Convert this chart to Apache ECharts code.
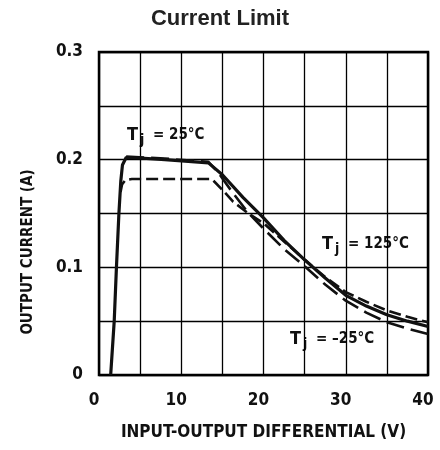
<!DOCTYPE html>
<html>
<head>
<meta charset="utf-8">
<script src="https://cdn.jsdelivr.net/npm/echarts@6/dist/echarts.min.js"></script>
<style>html,body{margin:0;padding:0;background:#fff}#c{width:440px;height:450px}</style>
</head>
<body>
<div id="c"></div>
<script>
// Tj = 25°C (solid)
const v25 = [1.42, 1.85, 2.12, 2.42, 2.65, 2.85, 3.3, 4, 8, 13.3, 15, 17.5, 20, 22.5, 25, 27.5, 30, 32.5, 35, 37.5, 40];
const i25 = [0, 0.05, 0.1, 0.15, 0.18, 0.195, 0.202, 0.202, 0.2, 0.197, 0.186, 0.165, 0.146, 0.125, 0.107, 0.09, 0.074, 0.064, 0.056, 0.05, 0.045];
// Tj = 125°C (short dash)
const v125 = [2.62, 2.8, 3.2, 4, 8, 13.7, 14.1, 15, 16.3, 18, 20, 22.5, 25, 27.5, 30, 32.5, 35, 37.5, 40];
const i125 = [0.17, 0.177, 0.181, 0.182, 0.182, 0.182, 0.179, 0.172, 0.161, 0.151, 0.141, 0.124, 0.107, 0.091, 0.077, 0.068, 0.060, 0.054, 0.049];
// Tj = -25°C (long dash)
const vM25 = [3.3, 8, 13.3, 14.5, 16, 18, 20, 22.5, 25, 27.5, 30, 32.5, 35, 37.5, 40];
const iM25 = [0.203, 0.201, 0.198, 0.188, 0.172, 0.152, 0.136, 0.117, 0.101, 0.084, 0.069, 0.058, 0.049, 0.043, 0.038];

const xTicks = [0, 10, 20, 30, 40];
const yTicks = ['0', '0.1', '0.2', '0.3'];

const FONT = 'DejaVu Sans Condensed';
const pair = (xs, ys) => xs.map((x, k) => [x, ys[k]]);

const chart = echarts.init(document.getElementById('c'), null, {renderer: 'canvas'});

function tjLabel(x, y, rest) {
  return {
    type: 'group', children: [
      {type: 'text', x: x, y: y, style: {text: 'T', font: 'bold 18px ' + FONT, fill: '#111', verticalAlign: 'middle', align: 'left'}},
      {type: 'text', x: x + 13, y: y + 5, style: {text: 'j', font: 'bold 14px ' + FONT, fill: '#111', verticalAlign: 'middle', align: 'left'}},
      {type: 'text', x: x + 26, y: y, style: {text: rest, font: 'bold 15px ' + FONT, fill: '#111', verticalAlign: 'middle', align: 'left'}}
    ]
  };
}

chart.setOption({
  animation: false,
  backgroundColor: '#fff',
  title: {
    text: 'Current Limit', left: 'center', top: 3,
    textStyle: {fontSize: 22, fontWeight: 'bold', fontFamily: 'Liberation Sans', color: '#222'}
  },
  grid: {left: 99, right: 12, top: 52, bottom: 75, show: true, borderColor: '#000', borderWidth: 2.5, backgroundColor: 'transparent'},
  xAxis: {
    type: 'value', min: 0, max: 40, interval: 5,
    name: 'INPUT-OUTPUT DIFFERENTIAL (V)', nameLocation: 'middle', nameGap: 49,
    nameTextStyle: {fontFamily: FONT, fontWeight: 'bold', fontSize: 17, color: '#111'},
    axisLine: {show: false}, axisTick: {show: false},
    splitLine: {show: true, lineStyle: {color: '#000', width: 1.3}},
    axisLabel: {
      margin: 17, fontFamily: FONT, fontWeight: 'bold', fontSize: 17, color: '#111', padding: [0, 10, 0, 0],
      formatter: v => (xTicks.indexOf(v) >= 0 ? String(v) : '')
    }
  },
  yAxis: {
    type: 'value', min: 0, max: 0.3, interval: 0.05,
    axisLine: {show: false}, axisTick: {show: false},
    splitLine: {show: true, lineStyle: {color: '#000', width: 1.3}},
    axisLabel: {
      margin: 16, fontFamily: FONT, fontWeight: 'bold', fontSize: 17, color: '#111',
      formatter: v => {
        const s = (Math.round(v * 100) / 100);
        const t = s === 0 ? '0' : s.toFixed(1);
        return (Math.abs(v * 10 - Math.round(v * 10)) < 1e-6 && yTicks.indexOf(t) >= 0) ? t : '';
      }
    }
  },
  series: [
    {type: 'line', data: pair(vM25, iM25), symbol: 'none', lineStyle: {color: '#111', width: 2.6, type: [18, 7]}, z: 3},
    {type: 'line', data: pair(v125, i125), symbol: 'none', lineStyle: {color: '#111', width: 2.6, type: [12, 5]}, z: 3},
    {type: 'line', data: pair(v25, i25), symbol: 'none', lineStyle: {color: '#111', width: 3.2}, z: 4}
  ],
  graphic: [
    {type: 'text', x: 28, y: 252, rotation: Math.PI / 2,
     style: {text: 'OUTPUT CURRENT (A)', font: 'bold 15px ' + FONT, fill: '#111', align: 'center', verticalAlign: 'middle'}},
    tjLabel(127, 135, '= 25°C'),
    tjLabel(322, 244, '= 125°C'),
    tjLabel(290, 339, '= –25°C')
  ]
});
</script>
</body>
</html>
